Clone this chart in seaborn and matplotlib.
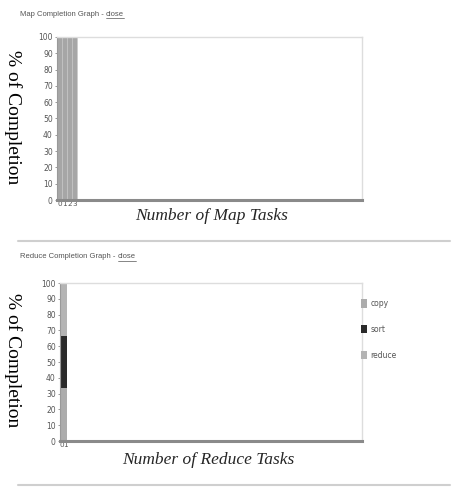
import matplotlib
matplotlib.use("Agg")
import matplotlib.pyplot as plt
import seaborn as sns
import pandas as pd
from matplotlib.lines import Line2D
from matplotlib.patches import Rectangle

# ---- data ----
map_tasks = [0, 1, 2, 3]
map_completion = [100, 100, 100, 100]

reduce_tasks = [0, 1]
phases = ["copy", "sort", "reduce"]
copy_vals = [33.3, 33.3]
sort_vals = [33.3, 33.3]
reduce_vals = [33.4, 33.4]

yticks = list(range(0, 101, 10))

phase_colors = {"copy": "#acacac", "sort": "#2a2a2a", "reduce": "#b4b4b4"}

sns.set_theme(style="white")
W, H = 454, 490
fig = plt.figure(figsize=(W / 100, H / 100), dpi=100)


def px_axes(x0, y0, x1, y1):
    return fig.add_axes([x0 / W, 1 - y1 / H, (x1 - x0) / W, (y1 - y0) / H])


def style_axes(ax, ticks_x, xmax):
    ax.set_ylim(0, 100)
    ax.set_xlim(-0.5, xmax)
    ax.set_yticks(yticks)
    ax.set_yticklabels([str(v) for v in yticks], fontsize=5.5, color="#555555")
    ax.set_xticks(ticks_x)
    ax.set_xticklabels([str(v) for v in ticks_x], fontsize=5.2, color="#555555")
    ax.tick_params(axis="y", length=1.5, width=0.6, color="#888888", pad=1.5, left=True)
    ax.tick_params(axis="x", length=0, pad=1)
    for s in ["top", "right"]:
        ax.spines[s].set_color("#dddddd")
        ax.spines[s].set_linewidth(1.0)
    ax.spines["left"].set_color("#999999")
    ax.spines["left"].set_linewidth(0.8)
    ax.spines["bottom"].set_color("#8a8a8a")
    ax.spines["bottom"].set_linewidth(2.2)
    ax.set_xlabel("")
    ax.set_ylabel("")
    ax.grid(False)


def header(y, text):
    t = fig.text(20 / W, 1 - y / H, text, fontsize=5.5, color="#555555",
                 family="Liberation Sans", va="center", ha="left")
    fig.canvas.draw()
    bb = t.get_window_extent()
    c = fig.text(bb.x1 / W, 1 - y / H, "close", fontsize=5.5, color="#555555",
                 family="Liberation Sans", va="center", ha="left")
    fig.canvas.draw()
    cb = c.get_window_extent()
    fig.add_artist(Line2D([cb.x0 / W, cb.x1 / W], [(cb.y0 - 0.5) / H] * 2,
                          color="#555555", lw=0.5))


# ---- top: map completion ----
ax1 = px_axes(57, 37, 362, 200)
df_map = pd.DataFrame({"task": map_tasks, "pct": map_completion})
sns.histplot(data=df_map, x="task", weights="pct", discrete=True, shrink=1.0,
             color="#a6a6a6", edgecolor="#c8c8c8", linewidth=0.4, alpha=1, ax=ax1)
style_axes(ax1, map_tasks, 60.5)

# ---- bottom: reduce completion ----
ax2 = px_axes(60, 283, 362, 441)
rows = []
for i, t in enumerate(reduce_tasks):
    rows.append({"task": t, "phase": "copy", "pct": copy_vals[i]})
    rows.append({"task": t, "phase": "sort", "pct": sort_vals[i]})
    rows.append({"task": t, "phase": "reduce", "pct": reduce_vals[i]})
df_red = pd.DataFrame(rows)
# seaborn stacks the first hue level on top, so reverse to put "copy" at the bottom
sns.histplot(data=df_red, x="task", weights="pct", hue="phase", hue_order=phases[::-1],
             multiple="stack", discrete=True, shrink=1.0, palette=phase_colors,
             edgecolor="none", linewidth=0, alpha=1, legend=False, ax=ax2)
style_axes(ax2, reduce_tasks, 90)

# legend for reduce
handles = [Rectangle((0, 0), 1, 1, facecolor=phase_colors[p], edgecolor="none") for p in phases]
fig.legend(handles, phases, loc="upper left", bbox_to_anchor=(358 / W, 1 - 296 / H),
           frameon=False, fontsize=5.5, labelcolor="#555555", handlelength=0.8,
           handleheight=1.3, handletextpad=0.4, labelspacing=2.2, borderaxespad=0)

# axis labels (serif)
for ycen in [117, 360]:
    fig.text(4 / W, 1 - ycen / H, "% of Completion", rotation=270, fontsize=14,
             family="Liberation Serif", color="black", va="center", ha="left")
fig.text(212 / W, 1 - 216 / H, "Number of Map Tasks", style="italic", fontsize=12.5,
         family="Liberation Serif", ha="center", va="center")
fig.text(208 / W, 1 - 460 / H, "Number of Reduce Tasks", style="italic", fontsize=12.5,
         family="Liberation Serif", ha="center", va="center")

# separators
fig.add_artist(Line2D([18 / W, 450 / W], [1 - 241 / H] * 2, color="#cfcfcf", lw=1.5))
fig.add_artist(Line2D([18 / W, 450 / W], [1 - 485 / H] * 2, color="#cfcfcf", lw=1.5))

header(14, "Map Completion Graph - ")
header(257, "Reduce Completion Graph - ")

fig.savefig("out.png", dpi=100)
